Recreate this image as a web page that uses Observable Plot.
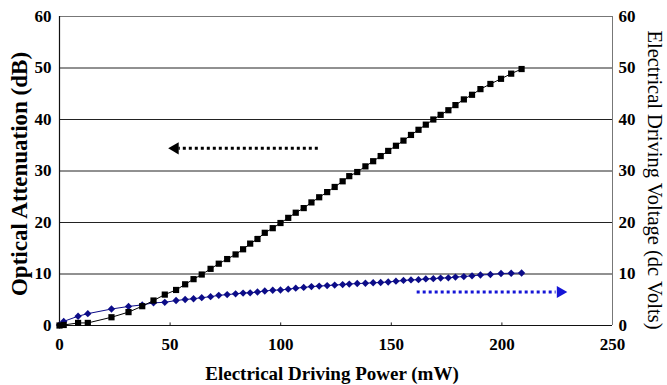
<!DOCTYPE html>
<html>
<head>
<meta charset="utf-8">
<script src="https://cdn.jsdelivr.net/npm/d3@7"></script>
<script src="https://cdn.jsdelivr.net/npm/@observablehq/plot@0.6"></script>
<style>
  html, body { margin: 0; padding: 0; background: #fff; }
</style>
</head>
<body>
<div id="chart"></div>
<script>
// Electrical driving power (mW) — shared x of both series
const power = [0, 1.9, 8.4, 12.8, 23.5, 31.2, 37.4,
  42.5, 47.6, 52.7, 56.8, 60.6, 64.3,
  68.3, 72.0, 75.8, 79.6, 83.0, 86.2,
  89.5, 92.8, 96.4, 99.9, 103.4, 106.8,
  110.4, 113.9, 117.4, 121.0, 124.4, 128.0,
  131.0, 134.6, 138.3, 141.8, 145.2, 148.6,
  152.1, 155.5, 158.9, 162.3, 165.6, 169.0,
  172.3, 175.8, 179.0, 182.8, 186.5, 190.3,
  194.8, 199.6, 204.2, 208.9];
// Optical attenuation (dB) — left axis
const attenuation = [0, 0.1, 0.5, 0.5, 1.6, 2.6, 3.75,
  4.85, 6.0, 6.9, 8.0, 9.0, 9.9,
  11.0, 12.0, 12.9, 13.8, 14.8, 15.9,
  16.8, 18.0, 18.9, 19.9, 20.9, 21.9,
  22.8, 23.9, 24.9, 25.9, 26.9, 28.0,
  29.0, 29.8, 30.9, 31.9, 32.9, 33.9,
  34.9, 35.9, 37.0, 38.0, 39.0, 40.0,
  40.9, 41.8, 42.8, 43.9, 44.8, 45.9,
  46.9, 47.9, 48.9, 49.8];
// Electrical driving voltage (dc Volts) — right axis
const voltage = [0.1, 0.8, 1.8, 2.3, 3.2, 3.7, 4.0,
  4.4, 4.5, 4.85, 5.05, 5.2, 5.4,
  5.6, 5.85, 6.0, 6.15, 6.3, 6.35,
  6.5, 6.7, 6.85, 6.9, 7.05, 7.25,
  7.4, 7.55, 7.65, 7.75, 7.85, 7.95,
  8.05, 8.15, 8.2, 8.3, 8.35, 8.45,
  8.6, 8.75, 8.85, 8.9, 9.05, 9.1,
  9.2, 9.25, 9.4, 9.5, 9.65, 9.8,
  9.9, 10.1, 10.15, 10.2];

const xTicks = [0, 50, 100, 150, 200, 250];
const yTicks = [0, 10, 20, 30, 40, 50, 60];

const xTitle = "Electrical Driving Power (mW)";
const yLeftTitle = "Optical Attenuation (dB)";
const yRightTitle = "Electrical Driving Voltage (dc Volts)";

// annotation arrows (data units): dotted shaft from -> to, triangle head at "head"
const leftArrow = {from: 117, to: 54, head: 52.3, y: 34.4};
const rightArrow = {from: 161.7, to: 224.5, head: 226.4, y: 6.5};

const rows = power.map((p, i) => ({power: p, att: attenuation[i], volt: voltage[i]}));

const blackC = "#000000";
const navy = "#0c0c88";
const arrowBlue = "#1515d6";
const serif = "'Liberation Serif', 'Times New Roman', serif";

const chart = Plot.plot({
  width: 667,
  height: 385,
  marginLeft: 59,
  marginRight: 55,
  marginTop: 16,
  marginBottom: 60,
  style: {fontFamily: serif, fontSize: "17px", fontWeight: "bold", color: "#000", background: "#fff", overflow: "visible"},
  x: {domain: [0, 250]},
  y: {domain: [0, 60]},
  marks: [
    // gridlines
    Plot.ruleY(yTicks.filter(v => v > 0 && v < 60), {stroke: "#222", strokeWidth: 1}),
    Plot.ruleY([60], {stroke: "#777", strokeWidth: 1}),
    Plot.ruleX([250], {stroke: "#777", strokeWidth: 1}),
    // small x tick marks
    Plot.ruleX(xTicks.filter(v => v > 0 && v < 250), {y1: 0, y2: 0.5, stroke: "#222"}),
    // axis lines
    Plot.ruleX([0], {stroke: "#111", strokeWidth: 1.2}),
    Plot.ruleY([0], {stroke: "#111", strokeWidth: 1.2}),
    // axes
    Plot.axisX({ticks: xTicks, tickSize: 0, tickPadding: 12, label: null, fontSize: 17, fontWeight: "bold"}),
    Plot.axisY({anchor: "left", ticks: yTicks, tickSize: 0, tickPadding: 8, label: null, fontSize: 17, fontWeight: "bold"}),
    Plot.axisY({anchor: "right", ticks: yTicks, tickSize: 0, tickPadding: 6, label: null, fontSize: 17, fontWeight: "bold"}),
    // axis titles
    Plot.text([xTitle], {frameAnchor: "bottom", textAnchor: "middle", lineAnchor: "middle", text: d => d, dy: 48, dx: -4, fontSize: 19, fontWeight: "bold", fill: "#000"}),
    Plot.text([yLeftTitle], {frameAnchor: "left", textAnchor: "middle", lineAnchor: "middle", text: d => d, rotate: -90, dx: -40, dy: 3, fontSize: 23, fontWeight: "bold", fill: "#000"}),
    Plot.text([yRightTitle], {frameAnchor: "right", textAnchor: "middle", lineAnchor: "middle", text: d => d, rotate: 90, dx: 42, dy: 9, fontSize: 20.5, fontWeight: "normal", fill: "#000"}),
    // voltage series
    Plot.line(rows, {x: "power", y: "volt", stroke: navy, strokeWidth: 1}),
    Plot.dot(rows, {x: "power", y: "volt", symbol: "diamond2", r: 3.3, fill: navy, stroke: "none"}),
    // attenuation series
    Plot.line(rows, {x: "power", y: "att", stroke: blackC, strokeWidth: 1}),
    Plot.dot(rows, {x: "power", y: "att", symbol: "square", r: 3.5, fill: blackC, stroke: "none"}),
    // arrows
    Plot.ruleY([leftArrow], {x1: "from", x2: "to", y: "y", stroke: "#000", strokeWidth: 3, strokeDasharray: "3,3"}),
    Plot.dot([leftArrow], {x: "head", y: "y", symbol: "triangle", r: 4.5, rotate: -90, fill: "#000", stroke: "none"}),
    Plot.ruleY([rightArrow], {x1: "from", x2: "to", y: "y", stroke: arrowBlue, strokeWidth: 3, strokeDasharray: "3,3"}),
    Plot.dot([rightArrow], {x: "head", y: "y", symbol: "triangle", r: 4.5, rotate: 90, fill: arrowBlue, stroke: "none"})
  ]
});
document.getElementById("chart").appendChild(chart);
</script>
</body>
</html>
